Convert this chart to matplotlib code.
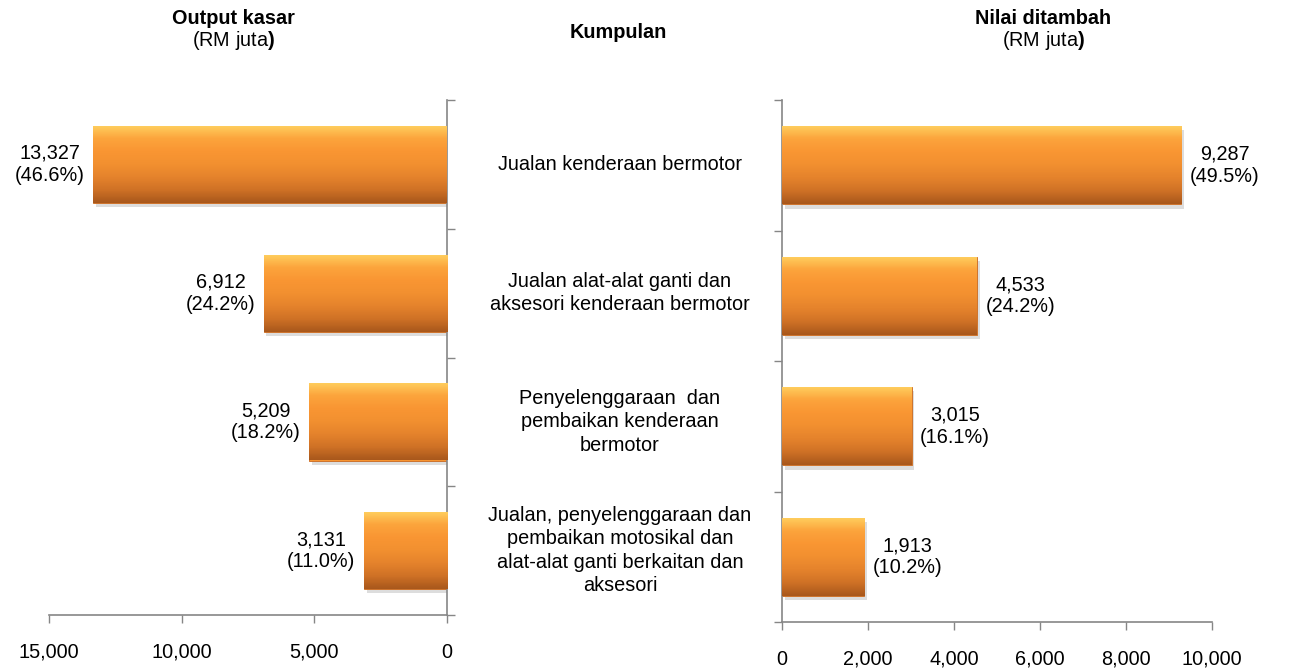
import numpy as np
import matplotlib.pyplot as plt
import matplotlib.patheffects as pe
from matplotlib.colors import LinearSegmentedColormap

plt.rcParams['font.family'] = ['Liberation Sans', 'DejaVu Sans']
plt.rcParams['mathtext.fontset'] = 'custom'
plt.rcParams['mathtext.rm'] = 'Liberation Sans'
plt.rcParams['mathtext.bf'] = 'Liberation Sans:bold'

# data
kumpulan = [
    'Jualan kenderaan bermotor',
    'Jualan alat-alat ganti dan\naksesori kenderaan bermotor',
    'Penyelenggaraan  dan\npembaikan kenderaan\nbermotor',
    'Jualan, penyelenggaraan dan\npembaikan motosikal dan\nalat-alat ganti berkaitan dan\naksesori',
]
output_kasar = [13327, 6912, 5209, 3131]
output_pct = [46.6, 24.2, 18.2, 11.0]
nilai_ditambah = [9287, 4533, 3015, 1913]
nilai_pct = [49.5, 24.2, 16.1, 10.2]

W, H = 1313, 668
fig = plt.figure(figsize=(W / 100, H / 100), dpi=100)

grey = '#868686'
fs = 14.3
bar_h = 0.6
grad = LinearSegmentedColormap.from_list(
    'bevel', ['#FFCF5E', '#FCA43C', '#F99633', '#F29030', '#E5832C', '#D07226', '#A9581C'])
gvals = np.linspace(0, 1, 64).reshape(-1, 1)


def ax_px(x0, y0, x1, y1):
    return fig.add_axes([x0 / W, 1 - y1 / H, (x1 - x0) / W, (y1 - y0) / H])


def draw_bars(ax, vals):
    ypos = np.arange(len(vals))
    bars = ax.barh(ypos, vals, height=bar_h, color='#F79432',
                   edgecolor='#C9691E', linewidth=0.6, zorder=2)
    for b, y, v in zip(bars, ypos, vals):
        b.set_path_effects([pe.SimplePatchShadow(offset=(2, -3), shadow_rgbFace='#a0a0a0', alpha=0.35),
                            pe.Normal()])
        im = ax.imshow(gvals, cmap=grad, aspect='auto', zorder=3,
                       extent=[0, v, y + bar_h / 2, y - bar_h / 2])
        im.set_clip_path(b)
    return ypos


def style(ax, ticks):
    ax.set_ylim(len(kumpulan) - 0.5, -0.5)
    ax.set_yticks(np.arange(-0.5, len(kumpulan) + 0.5, 1))
    ax.set_yticklabels([])
    ax.set_xticks(ticks)
    ax.set_xticklabels([f'{t:,}' for t in ticks], fontsize=fs)
    ax.tick_params(colors=grey, labelcolor='black', length=6, width=1)
    ax.tick_params(axis='x', pad=14)
    for s in ax.spines.values():
        s.set_color(grey)
        s.set_linewidth(1.2)


# left panel: output kasar
axl = ax_px(49, 100, 447, 615)
yl = draw_bars(axl, output_kasar)
axl.set_xlim(15000, 0)
style(axl, [15000, 10000, 5000, 0])
axl.spines['left'].set_visible(False)
axl.spines['top'].set_visible(False)
axl.yaxis.tick_right()
for y, v, p in zip(yl, output_kasar, output_pct):
    axl.annotate(f'{v:,}\n({p:.1f}%)', (v, y), xytext=(-6, 0), textcoords='offset points',
                 ha='right', va='center', multialignment='center', fontsize=fs)

# right panel: nilai ditambah
axr = ax_px(782, 100, 1212, 622)
yr = draw_bars(axr, nilai_ditambah)
axr.set_xlim(0, 10000)
style(axr, [0, 2000, 4000, 6000, 8000, 10000])
axr.spines['right'].set_visible(False)
axr.spines['top'].set_visible(False)
for y, v, p in zip(yr, nilai_ditambah, nilai_pct):
    axr.annotate(f'{v:,}\n({p:.1f}%)', (v, y), xytext=(6, 0), textcoords='offset points',
                 ha='left', va='center', multialignment='center', fontsize=fs)

# category labels in the middle
for y, k in zip(yl, kumpulan):
    yf = axl.transData.transform((0, y))[1]
    fig.text(620 / W, yf / H * 100 / fig.dpi, k, ha='center', va='center',
             fontsize=fs, linespacing=1.3)

# headers
fig.text(233 / W, 1 - 18 / H, 'Output kasar', ha='center', va='center', fontsize=fs, fontweight='bold')
fig.text(233 / W, 1 - 40 / H, r'(RM juta$\mathbf{)}$', ha='center', va='center', fontsize=fs)
fig.text(618 / W, 1 - 32 / H, 'Kumpulan', ha='center', va='center', fontsize=fs, fontweight='bold')
fig.text(1043 / W, 1 - 18 / H, 'Nilai ditambah', ha='center', va='center', fontsize=fs, fontweight='bold')
fig.text(1043 / W, 1 - 40 / H, r'(RM juta$\mathbf{)}$', ha='center', va='center', fontsize=fs)

fig.savefig('out.png', dpi=100)
